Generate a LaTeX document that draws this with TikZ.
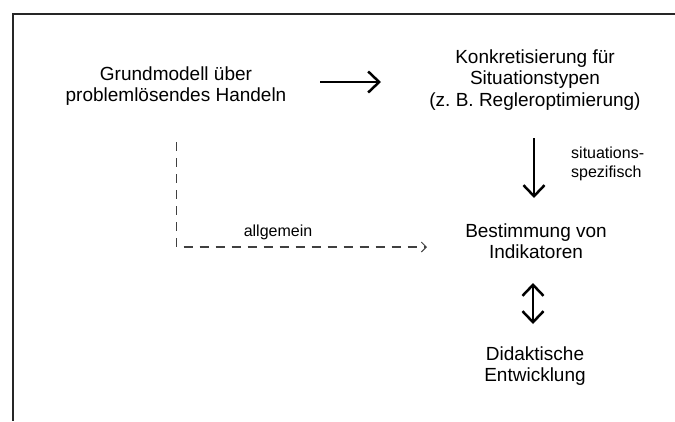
\documentclass[tikz,border=0pt]{standalone}
\usepackage{fontspec}
\setmainfont{Liberation Sans}
\usetikzlibrary{arrows.meta}
\begin{document}
\begin{tikzpicture}[x=1pt,y=-1pt,
  maintext/.style={align=center,inner sep=0pt,font=\fontsize{19}{21.5}\selectfont},
  labeltext/.style={align=left,inner sep=0pt,font=\fontsize{16}{18.5}\selectfont},
  bigarrow/.style={line width=2.5pt,-{Straight Barb[length=11pt,width=21pt,line width=2.5pt]}},
  dbarrow/.style={line width=2.5pt,{Straight Barb[length=11pt,width=21pt,line width=2.5pt]}-{Straight Barb[length=11pt,width=21pt,line width=2.5pt]}},
  dasharrow/.style={line width=1.2pt,draw=black!75,dash pattern=on 9pt off 7pt,-{Straight Barb[length=5pt,width=10pt,line width=1pt]}},
  frame/.style={line width=1.6pt,draw=black!85}]
\useasboundingbox (0,0) rectangle (675,421);
% frame
\coordinate (fTR) at (675,14);
\coordinate (fTL) at (13,14);
\coordinate (fBL) at (13,421);
\draw[frame] (fTR) -- (fTL) -- (fBL);
% nodes
\node[maintext] (grund) at (176,86) {Grundmodell über\\problemlösendes Handeln};
\node[maintext] (konk) at (535,80) {Konkretisierung für\\Situationstypen\\(z.\ B. Regleroptimierung)};
\node[maintext] (best) at (536,241) {Bestimmung von\\Indikatoren};
\node[maintext] (dida) at (535,366) {Didaktische\\Entwicklung};
\node[labeltext,anchor=west] (sit) at (571,164) {situations-\\spezifisch};
\node[labeltext,anchor=base] (allg) at (278,236.5) {allgemein};
% connectors
\coordinate (a1s) at (320,82);
\coordinate (a1e) at (381,82);
\draw[bigarrow] (a1s) -- (a1e);
\coordinate (a2s) at (534,138);
\coordinate (a2e) at (534,198);
\draw[bigarrow] (a2s) -- (a2e);
\coordinate (a3s) at (533,283);
\coordinate (a3e) at (533,324);
\draw[dbarrow] (a3s) -- (a3e);
\coordinate (d1s) at (176.5,142);
\coordinate (d1e) at (427,247);
\draw[dasharrow] (d1s) |- (d1e);
\end{tikzpicture}
\end{document}
